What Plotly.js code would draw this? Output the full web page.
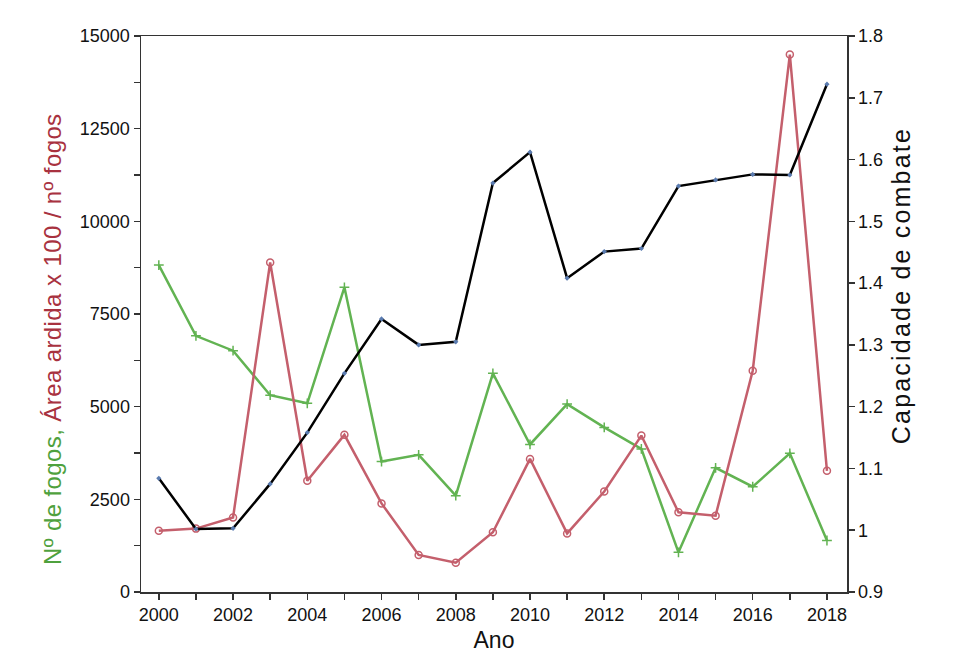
<!DOCTYPE html>
<html>
<head>
<meta charset="utf-8">
<script src="https://cdn.plot.ly/plotly-3.0.1.min.js"></script>
<style>html,body{margin:0;padding:0;background:#fff;}#chart{width:960px;height:670px;}</style>
</head>
<body>
<div id="chart"></div>
<script>
const years = [2000,2001,2002,2003,2004,2005,2006,2007,2008,2009,2010,2011,2012,2013,2014,2015,2016,2017,2018];
const nFogos = [8820,6910,6510,5310,5090,8220,3520,3700,2600,5900,3980,5070,4440,3860,1070,3350,2840,3740,1390];
const areaPorFogo = [1650,1710,2010,8890,3000,4240,2390,1000,790,1610,3590,1580,2710,4220,2150,2060,5970,14500,3270];
const capacidade = [1.084,1.002,1.003,1.075,1.158,1.254,1.342,1.300,1.305,1.562,1.612,1.408,1.451,1.456,1.557,1.567,1.576,1.575,1.722];

const FONT = 'Liberation Sans, Arial, Helvetica, sans-serif';
const GREEN = '#62b352';
const RED = '#c45f6c';

const traces = [
  {x: years, y: nFogos, type: 'scatter', mode: 'lines+markers', name: 'Nº de fogos',
   line: {color: GREEN, width: 2.5}, marker: {symbol: 'cross-thin', size: 7, line: {color: GREEN, width: 1.5}}},
  {x: years, y: areaPorFogo, type: 'scatter', mode: 'lines+markers', name: 'Área ardida x 100 / nº fogos',
   line: {color: RED, width: 2.5}, marker: {symbol: 'circle-open', size: 7, color: RED, line: {color: RED, width: 1.5}}},
  {x: years, y: capacidade, type: 'scatter', mode: 'lines+markers', name: 'Capacidade de combate', yaxis: 'y2',
   line: {color: '#000', width: 2.5}, marker: {symbol: 'diamond', size: 4, color: '#5a7bb0'}}
];

const layout = {
  width: 960, height: 670,
  margin: {l: 141, r: 113, t: 36, b: 78},
  paper_bgcolor: '#fff', plot_bgcolor: '#fff',
  showlegend: false,
  font: {family: FONT, size: 18, color: '#111'},
  xaxis: {
    range: [1999.52, 2018.54], tickmode: 'linear', tick0: 2000, dtick: 2,
    ticks: 'outside', ticklen: 6, tickwidth: 1.5, tickcolor: '#333',
    minor: {dtick: 1, tick0: 2000, ticks: 'outside', ticklen: 6, tickwidth: 1.5, tickcolor: '#333'},
    showgrid: false, zeroline: false, showline: true, linecolor: '#333', linewidth: 1.5, mirror: true,
    tickfont: {size: 18, family: FONT, color: '#111'},
    title: {text: 'Ano', font: {size: 23, family: FONT, color: '#111'}, standoff: 8}
  },
  yaxis: {
    range: [0, 15000], tickmode: 'linear', tick0: 0, dtick: 2500, tickformat: 'd',
    ticks: 'outside', ticklen: 6, tickwidth: 1.5, tickcolor: '#333',
    minor: {dtick: 1250, tick0: 0, ticks: 'outside', ticklen: 6, tickwidth: 1.5, tickcolor: '#333'},
    showgrid: false, zeroline: false, showline: true, linecolor: '#333', linewidth: 1.5,
    tickfont: {size: 18, family: FONT, color: '#111'}
  },
  yaxis2: {
    overlaying: 'y', side: 'right', range: [0.9, 1.8], tickmode: 'linear', tick0: 0.9, dtick: 0.1,
    ticks: 'outside', ticklen: 6, tickwidth: 1.5, tickcolor: '#333',
    showgrid: false, zeroline: false, showline: true, linecolor: '#333', linewidth: 1.5,
    tickfont: {size: 18, family: FONT, color: '#111'}
  },
  annotations: [
    {text: '<span style="fill:#4fa13d;color:#4fa13d;letter-spacing:0.4px">Nº de fogos, </span><span style="fill:#a8323f;color:#a8323f;letter-spacing:0.4px">Área ardida x 100 / nº fogos</span>',
     xref: 'paper', yref: 'paper', x: 0, y: 0.455, xanchor: 'center', yanchor: 'middle',
     xshift: -89, textangle: -90, showarrow: false, font: {size: 24, family: FONT}},
    {text: '<span style="letter-spacing:2.2px">Capacidade de combate</span>', xref: 'paper', yref: 'paper', x: 1, y: 0.55, xanchor: 'center', yanchor: 'middle',
     xshift: 54, textangle: -90, showarrow: false, font: {size: 25, family: FONT, color: '#111'}}
  ]
};

Plotly.newPlot('chart', traces, layout, {displayModeBar: false, staticPlot: true});
</script>
</body>
</html>
